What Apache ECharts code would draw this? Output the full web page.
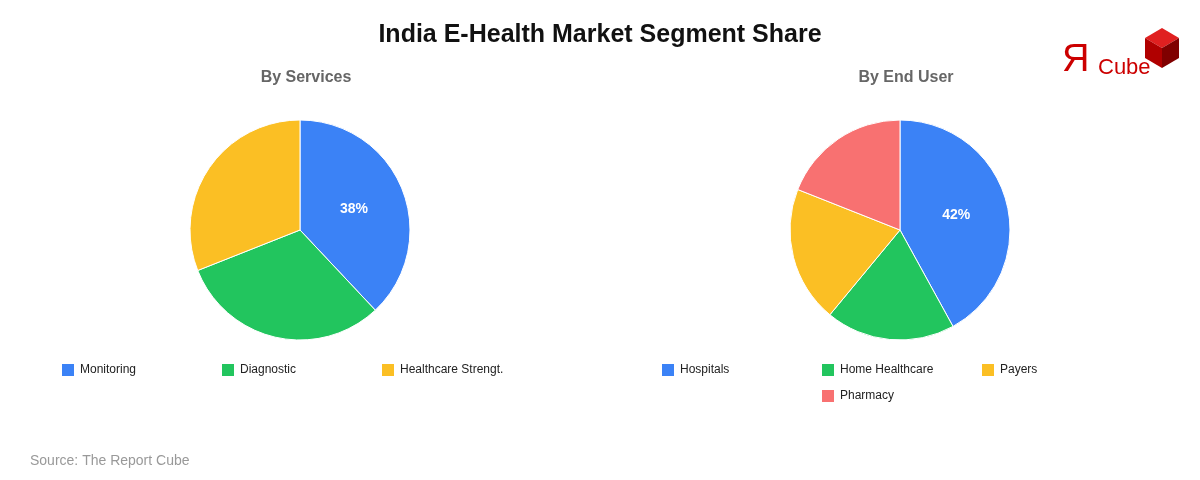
<!DOCTYPE html>
<html><head><meta charset="utf-8">
<script src="https://cdn.jsdelivr.net/npm/echarts@6/dist/echarts.min.js"></script>
<style>html,body{margin:0;padding:0;background:#fff}#c{width:1200px;height:480px}</style>
</head><body><div id="c"></div>
<script>
const servicesCats = ['Monitoring','Diagnostic','Healthcare Strengt.'];
const servicesVals = [38,31,31];
const endUserCats = ['Hospitals','Home Healthcare','Payers','Pharmacy'];
const endUserVals = [42,19,20,19];
const colors = ['#3b82f6','#22c55e','#fbbf24','#f87171'];

function mk(cats, vals){
  return cats.map((n,i)=>({name:n,value:vals[i],itemStyle:{color:colors[i]},
    label:{show:i===0}}));
}
const legendPos = [
  ['Monitoring',55,357],['Diagnostic',215,357],['Healthcare Strengt.',375,357],
  ['Hospitals',655,357],['Home Healthcare',815,357],['Payers',975,357],['Pharmacy',815,383]
];
const chart = echarts.init(document.getElementById('c'));
chart.setOption({
  animation:false,
  textStyle:{fontFamily:'Liberation Sans, Arial, sans-serif'},
  title:[
    {text:'India E-Health Market Segment Share',left:'center',top:18,textStyle:{fontSize:25,fontWeight:'bold',color:'#111'}},
    {text:'By Services',left:301,textAlign:'center',top:65,textStyle:{fontSize:16,fontWeight:'bold',color:'#666'}},
    {text:'By End User',left:901,textAlign:'center',top:65,textStyle:{fontSize:16,fontWeight:'bold',color:'#666'}},
    {text:'Source: The Report Cube',left:25,top:449,textStyle:{fontSize:14,fontWeight:'normal',color:'#999'}}
  ],
  legend: legendPos.map(p=>({data:[p[0]],left:p[1],top:p[2],itemWidth:14,itemHeight:14,icon:'rect',
    itemGap:6,textStyle:{fontSize:12,color:'#222'}})),
  series:[
    {type:'pie',center:[300,230],radius:[0,110],startAngle:90,clockwise:true,
     data:mk(servicesCats,servicesVals),labelLine:{show:false},
     itemStyle:{borderColor:'#fff',borderWidth:1},
     label:{position:'inside',formatter:'{d}%',color:'#fff',fontWeight:'bold',fontSize:14}},
    {type:'pie',center:[900,230],radius:[0,110],startAngle:90,clockwise:true,
     data:mk(endUserCats,endUserVals),labelLine:{show:false},
     itemStyle:{borderColor:'#fff',borderWidth:1},
     label:{position:'inside',formatter:'{d}%',color:'#fff',fontWeight:'bold',fontSize:14}}
  ],
  graphic:[
    {type:'text',left:1062,top:42,style:{text:'Я',fontSize:38,fill:'#c00',fontFamily:'Liberation Sans'}},
    {type:'text',left:1098,top:57,style:{text:'Cube',fontSize:22,fill:'#c00',fontFamily:'Liberation Sans'}},
    {type:'polygon',shape:{points:[[1145,38],[1162,28],[1179,38],[1162,48]]},style:{fill:'#e02020'}},
    {type:'polygon',shape:{points:[[1145,38],[1162,48],[1162,68],[1145,58]]},style:{fill:'#b00000'}},
    {type:'polygon',shape:{points:[[1162,48],[1179,38],[1179,58],[1162,68]]},style:{fill:'#800000'}}
  ]
});
</script></body></html>
